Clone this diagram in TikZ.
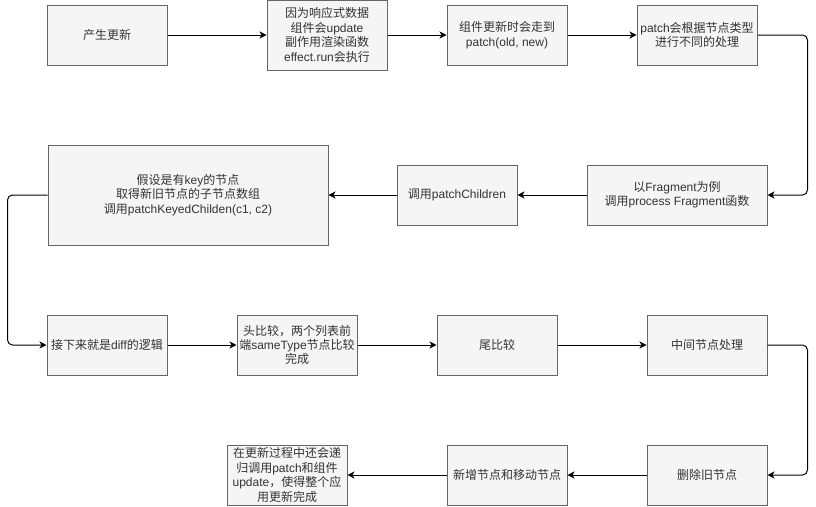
\documentclass[tikz,border=0pt]{standalone}
\usepackage{fontspec}
\setmainfont{Liberation Sans}
\newfontfamily\zh{Noto Sans CJK SC}
\usepackage{xcolor}
\usepackage{tikz}
\usetikzlibrary{arrows.meta,positioning,calc}
\definecolor{cFill}{HTML}{F5F5F5}
\definecolor{cStroke}{HTML}{666666}
\definecolor{cText}{HTML}{333333}
\newcommand{\cn}[1]{{\zh #1}}
\tikzset{
  stepbox/.style={draw=cStroke,fill=cFill,line width=1pt,align=center,text=cText,
    inner sep=0pt,minimum width=120pt,minimum height=60pt,
    font=\fontsize{12}{14.4}\selectfont},
  arr/.style={-{Stealth[length=7pt,width=7pt,inset=2pt]},line width=1pt,color=black},
}

\begin{document}
\begin{tikzpicture}[x=1pt,y=-1pt]
    \useasboundingbox (0,0) rectangle (816,506);
    % first row
    \node[stepbox] (gen) at (107,35) {\cn{产生更新}};
    \node[stepbox,minimum height=70pt] (react) at (327,35)
      {\cn{因为响应式数据}\\\cn{组件会}update\\\cn{副作用渲染函数}\\effect.run\cn{会执行}};
    \node[stepbox] (patch) at (507,35) {\cn{组件更新时会走到}\\patch(old, new)};
    \node[stepbox] (ntype) at (697,35) {patch\cn{会根据节点类型}\\\cn{进行不同的处理}};
    % second row
    \node[stepbox,minimum width=180pt] (frag) at (677,195)
      {\cn{以}Fragment\cn{为例}\\\cn{调用}process Fragment\cn{函数}};
    \node[stepbox] (child) at (457,195) {\cn{调用}patchChildren};
    \node[stepbox,minimum width=280pt,minimum height=100pt] (keyed) at (188,195)
      {\cn{假设是有}key\cn{的节点}\\\cn{取得新旧节点的子节点数组}\\\cn{调用}patchKeyedChilden(c1, c2)};
    % third row
    \node[stepbox] (diff) at (107,345) {\cn{接下来就是}diff\cn{的逻辑}};
    \node[stepbox] (head) at (297,345) {\cn{头比较，两个列表前}\\\cn{端}sameType\cn{节点比较}\\\cn{完成}};
    \node[stepbox] (tail) at (497,345) {\cn{尾比较}};
    \node[stepbox] (mid) at (707,345) {\cn{中间节点处理}};
    % fourth row
    \node[stepbox] (del) at (707,475) {\cn{删除旧节点}};
    \node[stepbox] (move) at (507,475) {\cn{新增节点和移动节点}};
    \node[stepbox] (done) at (287,475)
      {\cn{在更新过程中还会递}\\\cn{归调用}patch\cn{和组件}\\update\cn{，使得整个应}\\\cn{用更新完成}};
    % connectors
    \draw[arr] (gen) -- (react);
    \draw[arr] (react) -- (patch);
    \draw[arr] (patch) -- (ntype);
    \draw[arr,rounded corners=5pt] (ntype.east) -- ++(50,0) |- (frag.east);
    \draw[arr] (frag) -- (child);
    \draw[arr] (child) -- (keyed);
    \draw[arr,rounded corners=5pt] (keyed.west) -- ++(-40,0) |- (diff.west);
    \draw[arr] (diff) -- (head);
    \draw[arr] (head) -- (tail);
    \draw[arr] (tail) -- (mid);
    \draw[arr,rounded corners=5pt] (mid.east) -- ++(40,0) |- (del.east);
    \draw[arr] (del) -- (move);
    \draw[arr] (move) -- (done);
\end{tikzpicture}
\end{document}
